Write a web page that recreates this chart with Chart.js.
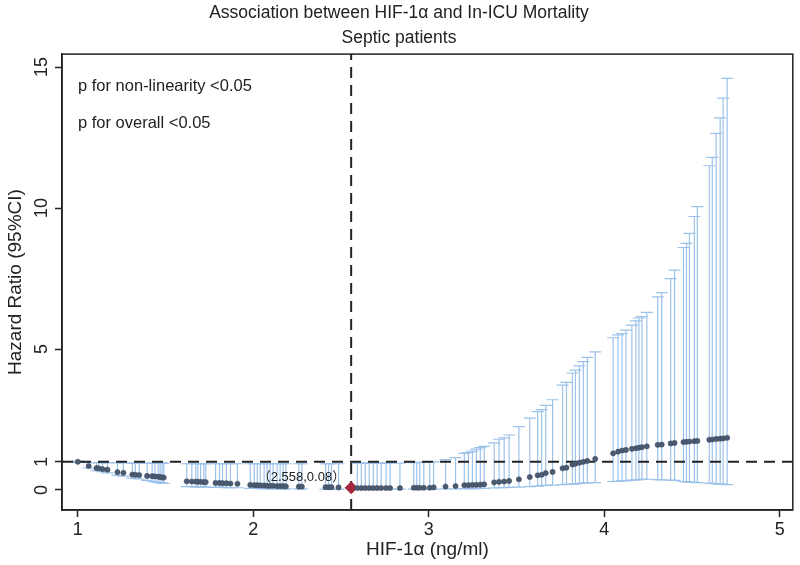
<!DOCTYPE html>
<html>
<head>
<meta charset="utf-8">
<script src="https://cdn.jsdelivr.net/npm/chart.js@4"></script>
<style>
  html, body { margin: 0; padding: 0; background: #fff; }
</style>
</head>
<body>
<canvas id="chart" width="800" height="565"></canvas>
<script>
// HIF-1α values and hazard ratio with 95% CI
const hrX = [
  1.00, 1.062, 1.107, 1.119, 1.141, 1.169, 1.226, 1.26, 1.311, 1.328, 1.35, 1.395, 1.424, 1.44, 1.458, 1.469, 1.48, 1.49,
  1.621, 1.65, 1.672, 1.684, 1.70, 1.718, 1.729, 1.785, 1.808, 1.825, 1.847, 1.87, 1.91,
  1.983, 2.006, 2.023, 2.04, 2.062, 2.079, 2.096, 2.113, 2.136, 2.153, 2.17, 2.186, 2.26, 2.277, 2.412, 2.429, 2.446, 2.486,
  2.593, 2.616, 2.638, 2.661, 2.684, 2.706, 2.729, 2.757, 2.78, 2.836, 2.915, 2.932, 2.949, 2.972, 3.006, 3.028,
  3.096, 3.153, 3.203, 3.226, 3.249, 3.271, 3.294, 3.316, 3.373, 3.401, 3.43, 3.458, 3.514, 3.576, 3.621, 3.644,
  3.667, 3.706, 3.763, 3.785, 3.819, 3.836, 3.859, 3.881, 3.904, 3.949,
  4.051, 4.079, 4.102, 4.124, 4.158, 4.181, 4.198, 4.215, 4.243, 4.305, 4.328, 4.379, 4.401, 4.452, 4.469, 4.486,
  4.514, 4.531, 4.599, 4.616, 4.638, 4.661, 4.678, 4.701
];
const hrEst = [
  1.00, 0.85, 0.78, 0.77, 0.74, 0.72, 0.63, 0.61, 0.55, 0.54, 0.53, 0.50, 0.49, 0.48, 0.47, 0.46, 0.45, 0.44,
  0.31, 0.30, 0.30, 0.29, 0.29, 0.28, 0.28, 0.25, 0.25, 0.24, 0.24, 0.23, 0.22,
  0.18, 0.17, 0.17, 0.16, 0.16, 0.15, 0.15, 0.15, 0.14, 0.14, 0.14, 0.13, 0.12, 0.12, 0.10, 0.10, 0.10, 0.09,
  0.07, 0.07, 0.07, 0.07, 0.07, 0.07, 0.07, 0.07, 0.07, 0.07, 0.08, 0.08, 0.08, 0.08, 0.08, 0.09,
  0.12, 0.14, 0.17, 0.17, 0.18, 0.18, 0.19, 0.20, 0.27, 0.29, 0.30, 0.32, 0.38, 0.46, 0.52, 0.54,
  0.60, 0.64, 0.77, 0.79, 0.90, 0.93, 0.97, 1.00, 1.03, 1.10,
  1.30, 1.36, 1.40, 1.42, 1.46, 1.48, 1.50, 1.52, 1.55, 1.60, 1.61, 1.65, 1.67, 1.70, 1.71, 1.72,
  1.73, 1.74, 1.78, 1.79, 1.81, 1.82, 1.83, 1.85
];
const ciLow = [
  0.98, 0.78, 0.70, 0.68, 0.65, 0.61, 0.52, 0.49, 0.42, 0.41, 0.39, 0.34, 0.31, 0.29, 0.27, 0.26, 0.24, 0.23,
  0.12, 0.12, 0.11, 0.11, 0.11, 0.11, 0.10, 0.09, 0.09, 0.09, 0.08, 0.08, 0.08,
  0.06, 0.06, 0.06, 0.05, 0.05, 0.05, 0.05, 0.05, 0.05, 0.04, 0.04, 0.04, 0.04, 0.04, 0.03, 0.03, 0.03, 0.03,
  0.03, 0.03, 0.03, 0.03, 0.03, 0.03, 0.03, 0.03, 0.03, 0.03, 0.03, 0.03, 0.03, 0.03, 0.03, 0.03,
  0.04, 0.04, 0.05, 0.05, 0.05, 0.05, 0.06, 0.06, 0.07, 0.08, 0.08, 0.09, 0.10, 0.12, 0.14, 0.15,
  0.16, 0.17, 0.19, 0.20, 0.21, 0.22, 0.23, 0.24, 0.25, 0.26,
  0.30, 0.31, 0.32, 0.33, 0.35, 0.36, 0.37, 0.38, 0.38, 0.37, 0.36, 0.35, 0.34, 0.30, 0.29, 0.28,
  0.27, 0.26, 0.24, 0.23, 0.22, 0.21, 0.20, 0.19
];
const ciHigh = [
  1.02, 0.97, 0.97, 0.97, 0.96, 0.96, 0.96, 0.96, 0.95, 0.95, 0.95, 0.95, 0.95, 0.95, 0.95, 0.95, 0.95, 0.95,
  0.93, 0.93, 0.93, 0.93, 0.93, 0.93, 0.93, 0.93, 0.93, 0.93, 0.93, 0.93, 0.93,
  0.93, 0.93, 0.93, 0.93, 0.93, 0.93, 0.93, 0.93, 0.93, 0.93, 0.93, 0.93, 0.93, 0.93, 0.93, 0.93, 0.93, 0.93,
  0.95, 0.95, 0.95, 0.95, 0.95, 0.95, 0.95, 0.95, 0.95, 0.95, 0.97, 0.97, 0.98, 0.98, 1.00, 1.00,
  1.08, 1.15, 1.30, 1.33, 1.38, 1.45, 1.50, 1.55, 1.67, 1.80, 1.85, 1.95, 2.25, 2.55, 2.78, 2.85,
  3.00, 3.20, 3.72, 3.82, 4.15, 4.25, 4.40, 4.55, 4.70, 4.90,
  5.40, 5.50, 5.55, 5.67, 5.85, 6.00, 6.10, 6.15, 6.30, 6.85, 7.00, 7.50, 7.80, 8.60, 8.75, 9.10,
  9.70, 10.05, 11.50, 11.80, 12.65, 13.20, 13.90, 14.60
];

const refX = 2.558, refY = 0.08;
const refLabel = "（2.558,0.08）";
const xTicks = [1, 2, 3, 4, 5];
const yTicks = [0, 1, 5, 10, 15];
const xMin = 0.91, xMax = 5.075, yMin = -0.71, yMax = 15.46;
const notes = ["p for non-linearity <0.05", "p for overall <0.05"];

const FONT = '"Liberation Sans", Arial, sans-serif';
const barBlue = "#9dc2ea";

const whiskers = hrX.flatMap((x, i) => [{ x, y: ciLow[i] }, { x, y: ciHigh[i] }, { x, y: null }]);

const extras = {
  id: "extras",
  afterDraw(chart) {
    const { ctx, chartArea: a, scales: { x, y } } = chart;
    ctx.save();
    ctx.strokeStyle = "#222";
    ctx.lineWidth = 1.5;
    ctx.strokeRect(a.left, a.top, a.right - a.left, a.bottom - a.top);

    // rotated y tick labels
    ctx.fillStyle = "#222";
    ctx.font = "18px " + FONT;
    ctx.textAlign = "center";
    ctx.textBaseline = "middle";
    yTicks.forEach((v) => {
      ctx.save();
      ctx.translate(a.left - 20, y.getPixelForValue(v));
      ctx.rotate(-Math.PI / 2);
      ctx.fillText(String(v), 0, 0);
      ctx.restore();
    });

    // p-value notes
    ctx.font = "16.5px " + FONT;
    ctx.textAlign = "left";
    notes.forEach((t, i) => ctx.fillText(t, a.left + 16, a.top + 32 + i * 37));

    // reference point label
    ctx.font = '13px "Liberation Sans", "Noto Sans CJK SC", sans-serif';
    ctx.textAlign = "right";
    ctx.fillText(refLabel, x.getPixelForValue(refX) - 6, y.getPixelForValue(refY) - 10);
    ctx.restore();
  },
};

new Chart(document.getElementById("chart"), {
  type: "scatter",
  data: {
    datasets: [
      {
        data: hrX.map((x, i) => ({ x, y: hrEst[i] })),
        pointRadius: 2.6,
        backgroundColor: "#4b5b72",
        borderColor: "#3a4658",
        borderWidth: 0.5,
        order: 0,
      },
      {
        data: [{ x: refX, y: refY }],
        pointStyle: "rectRot",
        pointRadius: 6,
        backgroundColor: "#a3263b",
        borderColor: "#a3263b",
        order: 0,
      },
      {
        data: [{ x: refX, y: yMin }, { x: refX, y: yMax }],
        showLine: true,
        pointRadius: 0,
        borderColor: "#222",
        borderWidth: 2,
        borderDash: [11, 7],
        order: 1,
      },
      {
        data: [{ x: xMin, y: 1 }, { x: xMax, y: 1 }],
        showLine: true,
        pointRadius: 0,
        borderColor: "#222",
        borderWidth: 2,
        borderDash: [11, 7],
        order: 1,
      },
      {
        data: hrX.map((x, i) => ({ x, y: ciHigh[i] })),
        pointStyle: "line",
        pointRadius: 6,
        borderColor: barBlue,
        borderWidth: 1.2,
        order: 2,
      },
      {
        data: hrX.map((x, i) => ({ x, y: ciLow[i] })),
        pointStyle: "line",
        pointRadius: 6,
        borderColor: barBlue,
        borderWidth: 1.2,
        order: 2,
      },
      {
        data: whiskers,
        showLine: true,
        spanGaps: false,
        pointRadius: 0,
        borderColor: barBlue,
        borderWidth: 1.2,
        order: 3,
      },
    ],
  },
  options: {
    responsive: false,
    animation: false,
    layout: { padding: { left: 0, right: 2, top: 0, bottom: 0 } },
    plugins: {
      legend: { display: false },
      tooltip: { enabled: false },
      title: {
        display: true,
        text: ["Association between HIF-1α and In-ICU Mortality", "Septic patients"],
        color: "#222",
        font: { family: FONT, size: 17.5, weight: "normal", lineHeight: 1.46 },
        padding: { top: 0, bottom: 3 },
      },
    },
    scales: {
      x: {
        type: "linear",
        min: xMin,
        max: xMax,
        afterBuildTicks: (s) => { s.ticks = xTicks.map((v) => ({ value: v })); },
        afterFit: (s) => { s.height = 55; },
        grid: { drawOnChartArea: false, drawTicks: true, tickLength: 7, tickColor: "#222", tickWidth: 1.5 },
        border: { color: "#222", width: 1.5 },
        ticks: { color: "#222", font: { family: FONT, size: 18 }, padding: 2, maxRotation: 0 },
        title: { display: true, text: "HIF-1α (ng/ml)", color: "#222", font: { family: FONT, size: 19 }, padding: { top: 0, bottom: 4 } },
      },
      y: {
        type: "linear",
        min: yMin,
        max: yMax,
        afterBuildTicks: (s) => { s.ticks = yTicks.map((v) => ({ value: v })); },
        afterFit: (s) => { s.width = 62; },
        grid: { drawOnChartArea: false, drawTicks: true, tickLength: 7, tickColor: "#222", tickWidth: 1.5 },
        border: { color: "#222", width: 1.5 },
        ticks: { display: false },
        title: { display: true, text: "Hazard Ratio (95%CI)", color: "#222", font: { family: FONT, size: 19 }, padding: { top: 4, bottom: 0 } },
      },
    },
  },
  plugins: [extras],
});
</script>
</body>
</html>
